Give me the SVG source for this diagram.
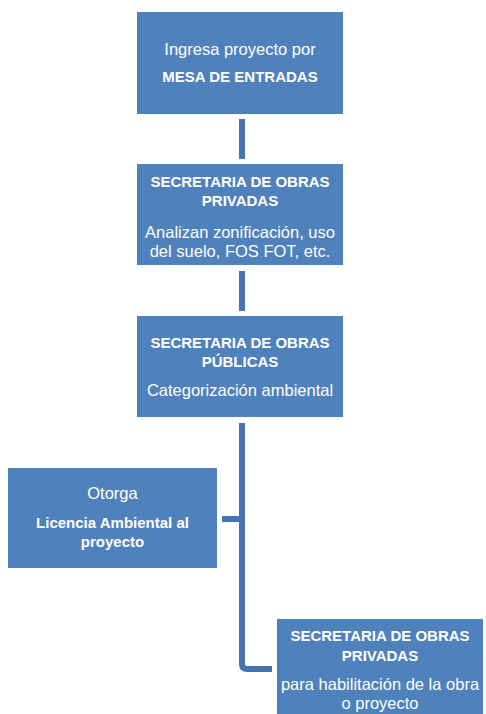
<svg xmlns="http://www.w3.org/2000/svg" width="486" height="714" viewBox="0 0 486 714">
<style>
.box{fill:#4F81BD;}
.t{font-family:"Liberation Sans",Arial,sans-serif;fill:#FFFFFF;text-anchor:middle;font-size:16.5px;}
.b{font-weight:bold;font-size:15px;}
.c{fill:none;stroke:#4674B0;stroke-width:6;}
</style>
<rect width="486" height="714" fill="#FFFFFF"/>
<g id="connectors">
<line class="c" x1="242" y1="119" x2="242" y2="159"/>
<line class="c" x1="242" y1="271" x2="242" y2="311"/>
<path class="c" d="M242 423 V664 Q242 669 247 669 H272"/>
<line class="c" x1="222" y1="519" x2="242" y2="519"/>
</g>
<g id="mesa">
<rect class="box" x="137" y="12" width="206" height="102"/>
<text class="t" x="240" y="55">Ingresa proyecto por</text>
<text class="t b" x="240" y="82">MESA DE ENTRADAS</text>
</g>
<g id="privadas1">
<rect class="box" x="137" y="164" width="206" height="101"/>
<text class="t b" x="240" y="187">SECRETARIA DE OBRAS</text>
<text class="t b" x="240" y="206">PRIVADAS</text>
<text class="t" x="240" y="238">Analizan zonificación, uso</text>
<text class="t" x="240" y="257">del suelo, FOS FOT, etc.</text>
</g>
<g id="publicas">
<rect class="box" x="137" y="316" width="206" height="101"/>
<text class="t b" x="240" y="348">SECRETARIA DE OBRAS</text>
<text class="t b" x="240" y="367">PÚBLICAS</text>
<text class="t" x="240" y="396">Categorización ambiental</text>
</g>
<g id="licencia">
<rect class="box" x="8" y="468" width="209" height="100"/>
<text class="t" x="112.5" y="499">Otorga</text>
<text class="t b" x="112.5" y="528">Licencia Ambiental al</text>
<text class="t b" x="112.5" y="547">proyecto</text>
</g>
<g id="privadas2">
<rect class="box" x="277" y="619" width="206" height="101"/>
<text class="t b" x="380" y="641">SECRETARIA DE OBRAS</text>
<text class="t b" x="380" y="661">PRIVADAS</text>
<text class="t" x="380" y="690">para habilitación de la obra</text>
<text class="t" x="380" y="709">o proyecto</text>
</g>
</svg>
